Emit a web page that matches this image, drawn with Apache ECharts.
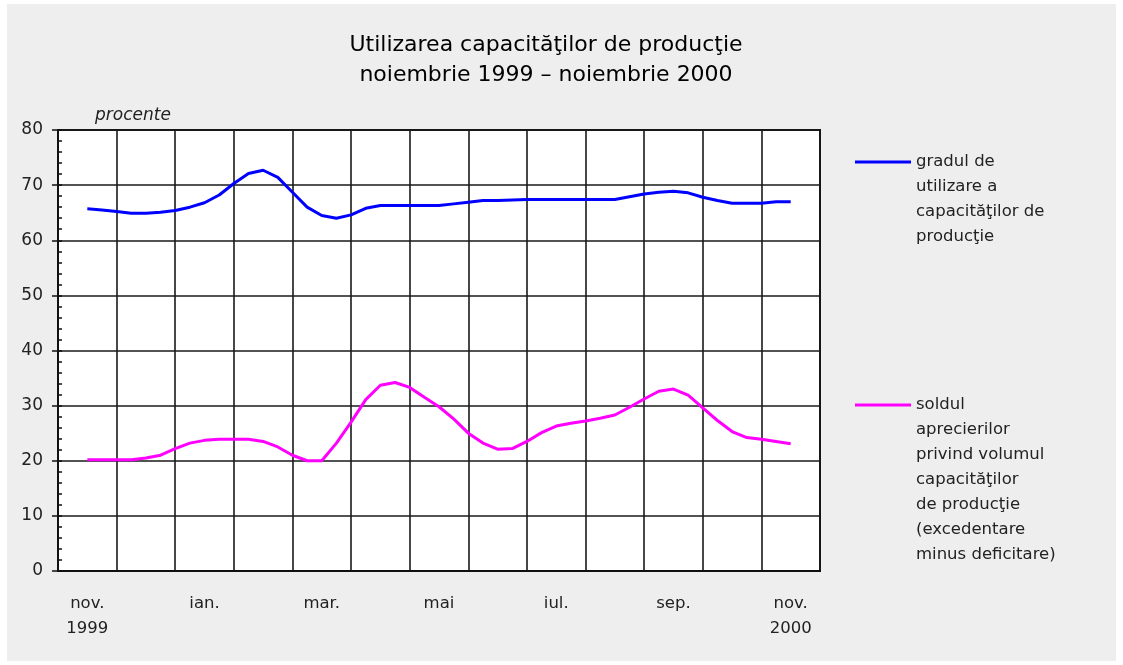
<!DOCTYPE html>
<html>
<head>
<meta charset="utf-8">
<script src="https://cdn.jsdelivr.net/npm/echarts@6/dist/echarts.min.js"></script>
<style>
  html, body { margin: 0; padding: 0; background: #fff; }
  .frame { position: absolute; left: 7px; top: 4px; width: 1109px; height: 657px; background: #eeeeee; }
  #chart { position: absolute; left: 0; top: 0; width: 1123px; height: 665px; }
</style>
</head>
<body>
<div class="frame"></div>
<div id="chart"></div>
<script>
// months shown on the category axis (labels every other month)
const months = ['nov.\n1999', 'dec.', 'ian.', 'feb.', 'mar.', 'apr.', 'mai', 'iun.', 'iul.', 'aug.', 'sep.', 'oct.', 'nov.\n2000'];

// position of each reading, in months from nov. 1999 (weekly readings)
const weekPos = [0, 0.25, 0.5, 0.75, 1, 1.25, 1.5, 1.75, 2, 2.25, 2.5, 2.75, 3,
  3.25, 3.5, 3.75, 4, 4.25, 4.5, 4.75, 5, 5.25, 5.5, 5.75, 6,
  6.25, 6.5, 6.75, 7, 7.25, 7.5, 7.75, 8, 8.25, 8.5, 8.75, 9,
  9.25, 9.5, 9.75, 10, 10.25, 10.5, 10.75, 11, 11.25, 11.5, 11.75, 12];

// gradul de utilizare a capacitatilor (%)
const utilizare = [65.7, 65.5, 65.2, 64.9, 64.9, 65.1, 65.4, 66.0, 66.8, 68.2, 70.3, 72.1, 72.7,
  71.4, 68.7, 66.0, 64.5, 64.0, 64.6, 65.8, 66.3, 66.3, 66.3, 66.3, 66.3,
  66.6, 66.9, 67.2, 67.2, 67.3, 67.4, 67.4, 67.4, 67.4, 67.4, 67.4, 67.4,
  67.9, 68.4, 68.7, 68.9, 68.6, 67.8, 67.2, 66.7, 66.7, 66.7, 67.0, 67.0];

// soldul aprecierilor (excedentare minus deficitare)
const sold = [20.2, 20.2, 20.2, 20.2, 20.5, 21.0, 22.2, 23.2, 23.7, 23.9, 23.9, 23.9, 23.5,
  22.5, 21.0, 20.0, 20.0, 23.2, 27.0, 31.1, 33.7, 34.2, 33.3, 31.5, 29.8,
  27.6, 25.0, 23.2, 22.1, 22.2, 23.5, 25.1, 26.3, 26.8, 27.2, 27.7, 28.3,
  29.7, 31.2, 32.6, 33.0, 31.9, 29.6, 27.3, 25.3, 24.2, 23.9, 23.5, 23.1];

const yTicks = [0, 80, 10];

const nameUtil = 'gradul de\nutilizare a\ncapacităţilor de\nproducţie';
const nameSold = 'soldul\naprecierilor\nprivind volumul\ncapacităţilor\nde producţie\n(excedentare\nminus deficitare)';

const font = 'DejaVu Sans';
const lh = 25;

// legend text is centred on its icon: pad with blank lines above so the
// first line sits level with the line sample
function legendFor(name, iconY) {
  const n = name.split('\n').length;
  return {
    data: [name],
    left: 855, top: iconY - (2 * n - 1) * lh / 2, padding: 0,
    orient: 'vertical', selectedMode: false,
    icon: 'rect', itemWidth: 56, itemHeight: 3,
    formatter: s => '\n'.repeat(n - 1) + s,
    textStyle: { fontFamily: font, fontSize: 16.5, color: '#222', lineHeight: lh }
  };
}

const chart = echarts.init(document.getElementById('chart'));
chart.setOption({
  backgroundColor: 'transparent',
  animation: false,
  textStyle: { fontFamily: font },
  title: {
    text: 'Utilizarea capacităţilor de producţie\nnoiembrie 1999 – noiembrie 2000',
    left: 546,
    top: 30,
    padding: 0,
    textAlign: 'center',
    textStyle: { fontFamily: font, fontSize: 22, fontWeight: 'normal', color: '#000', lineHeight: 30 }
  },
  legend: [legendFor(nameUtil, 162), legendFor(nameSold, 405)],
  grid: {
    left: 58, top: 130, width: 762, height: 441,
    show: true, backgroundColor: '#fff', borderColor: '#111', borderWidth: 2
  },
  xAxis: [
    {
      type: 'category',
      data: months,
      boundaryGap: true,
      axisLine: { onZero: false, lineStyle: { color: '#111', width: 2 } },
      axisTick: { show: false },
      axisLabel: { interval: 1, margin: 20, fontSize: 16.5, color: '#222', lineHeight: lh, fontFamily: font },
      splitLine: { show: true, interval: 0, lineStyle: { color: '#1a1a1a', width: 1.6 } }
    },
    { type: 'value', min: -0.5, max: 12.5, show: false }
  ],
  yAxis: [
    {
      type: 'value', min: yTicks[0], max: yTicks[1], interval: yTicks[2],
      name: 'procente', nameLocation: 'end', nameGap: 6,
      nameTextStyle: { fontFamily: font, fontStyle: 'italic', fontSize: 17, color: '#222', align: 'left', padding: [0, 0, 0, 37] },
      axisLine: { show: true, onZero: false, lineStyle: { color: '#111', width: 2 } },
      axisTick: { show: true, length: 6, lineStyle: { color: '#111', width: 1.5 } },
      axisLabel: { margin: 15, fontSize: 17, color: '#222', fontFamily: font },
      splitLine: { show: true, lineStyle: { color: '#1a1a1a', width: 1.6 } }
    },
    {
      type: 'value', min: yTicks[0], max: yTicks[1], interval: 2, position: 'left',
      axisLine: { show: false, onZero: false },
      axisTick: { show: true, inside: true, length: 4, lineStyle: { color: '#111', width: 1.5 } },
      axisLabel: { show: false },
      splitLine: { show: false }
    }
  ],
  series: [
    {
      name: nameUtil, type: 'line', xAxisIndex: 1, yAxisIndex: 0,
      data: weekPos.map((m, i) => [m, utilizare[i]]),
      symbol: 'none', color: '#0000ff',
      lineStyle: { width: 3, color: '#0000ff' }
    },
    {
      name: nameSold, type: 'line', xAxisIndex: 1, yAxisIndex: 0,
      data: weekPos.map((m, i) => [m, sold[i]]),
      symbol: 'none', color: '#ff00ff',
      lineStyle: { width: 3, color: '#ff00ff' }
    }
  ]
});
</script>
</body>
</html>
